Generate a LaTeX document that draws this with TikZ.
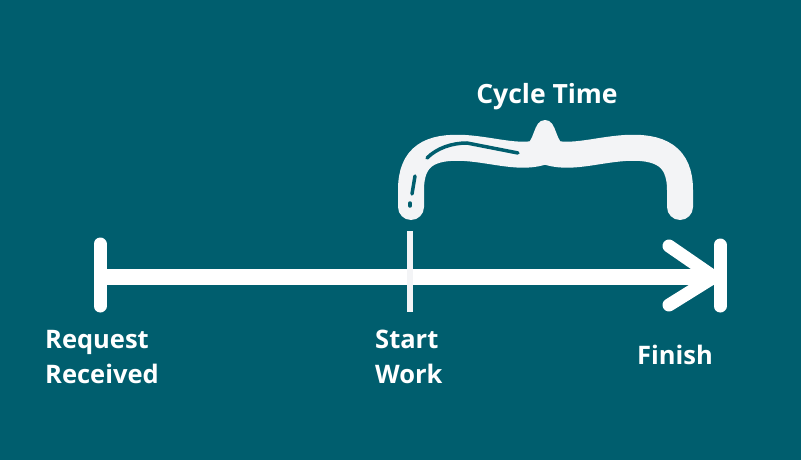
\documentclass[tikz,border=0pt]{standalone}
\usepackage{fontspec}
\setmainfont{Open Sans}
\usetikzlibrary{calc}

\definecolor{tealbg}{HTML}{005E6E}
\definecolor{paleline}{HTML}{F3F4F6}

\begin{document}
\begin{tikzpicture}[x=1pt,y=-1pt,
    axis/.style={draw=white,line width=16},
    tick/.style={draw=white,line width=13,line cap=round},
    brace/.style={draw=paleline,line width=26,line cap=round},
    shine/.style={draw=tealbg,line width=3.5,line cap=round},
    lbl/.style={text=white,inner sep=0,align=left,
      font=\fontsize{25.5}{35}\selectfont\bfseries}]
  \fill[tealbg] (0,0) rectangle (801,460);
  \useasboundingbox (0,0) rectangle (801,460);
  \coordinate (req) at (100,277);
  \coordinate (start) at (410,277);
  \coordinate (fin) at (714,277);
  \path[axis] (req) edge (fin);
  \path[tick] ($(req)+(0,-33)$) edge ($(req)+(0,29)$);
  \path[tick] ($(fin)+(6,-32)$) edge ($(fin)+(6,29)$);
  \path[tick,line join=round] ($(fin)+(-45,-31)$) edge (fin);
  \path[tick] ($(fin)+(-45,28)$) edge (fin);
  \path[draw=paleline,line width=6] ($(start)+(0,-46)$) edge ($(start)+(0,35)$);
  % curly brace above the second part
  \draw[brace] (411,207) -- (411,190) .. controls (411,156) and (430,146) .. (465,148)
    .. controls (495,150) and (522,160) .. (545,151)
    .. controls (568,160) and (595,150) .. (625,148)
    .. controls (660,146) and (680,156) .. (680,190) -- (680,207);
  \fill[paleline] (522,147) .. controls (536,144) and (532,120) .. (545,120)
    .. controls (558,120) and (554,144) .. (568,147) -- cycle;
  \draw[shine] (427,158) .. controls (437,148) and (452,143) .. (467,143) -- (518,153);
  \draw[shine] (415,176) -- (412,194);
  \draw[shine] (410,203) -- (410,206);
  \node[lbl,anchor=base,font=\fontsize{26.5}{35}\selectfont\bfseries] (cyc) at (547,103) {Cycle Time};
  \node[lbl,anchor=base west] (rr) at (45,383) {Request\\Received};
  \node[lbl,anchor=base west] (sw) at (375,383) {Start\\Work};
  \node[lbl,anchor=base] (fn) at (675,364) {Finish};
\end{tikzpicture}
\end{document}
